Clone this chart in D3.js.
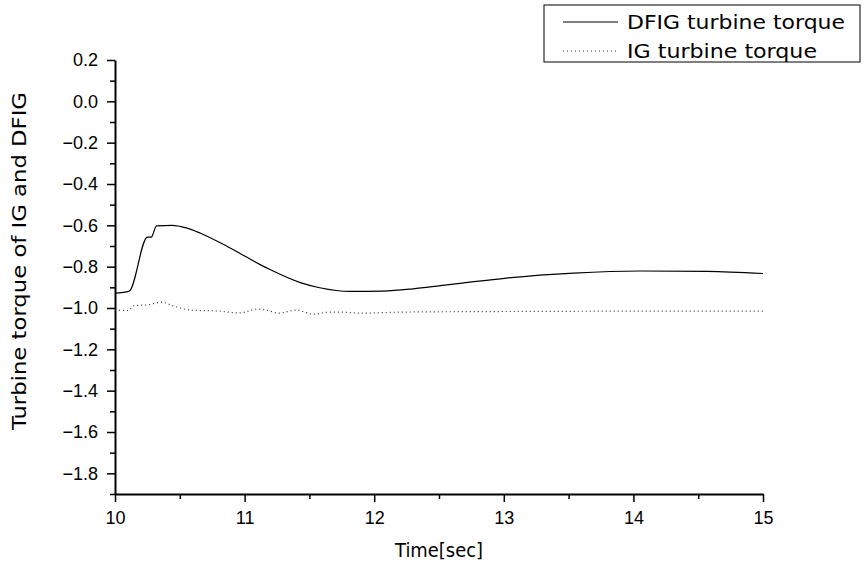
<!DOCTYPE html>
<html>
<head>
<meta charset="utf-8">
<script src="https://cdn.jsdelivr.net/npm/d3@7"></script>
<style>
  body { margin: 0; background: #fff; }
  svg { display: block; }
</style>
</head>
<body>
<svg id="chart" width="867" height="564"></svg>
<script>
// time axis (sec)
var dfigTime = [10.0, 10.11, 10.25, 10.28, 10.32, 10.44, 10.55, 10.66, 10.86, 11.0, 11.12, 11.2, 11.43, 11.58, 11.81, 12.07, 12.3, 12.51, 12.66, 13.02, 13.54, 14.05, 14.57, 15.0];
var dfigTorque = [-0.928, -0.918, -0.657, -0.657, -0.603, -0.600, -0.612, -0.638, -0.700, -0.748, -0.790, -0.815, -0.877, -0.902, -0.920, -0.918, -0.907, -0.892, -0.881, -0.855, -0.831, -0.821, -0.823, -0.833];

var igTime = [10.0, 10.1, 10.15, 10.25, 10.36, 10.45, 10.58, 10.8, 10.96, 11.1, 11.18, 11.26, 11.4, 11.53, 11.65, 11.74, 11.9, 12.2, 12.6, 13.0, 13.5, 14.0, 14.5, 15.0];
var igTorque = [-1.01, -1.012, -0.988, -0.985, -0.972, -0.99, -1.01, -1.015, -1.024, -1.005, -1.012, -1.025, -1.01, -1.03, -1.02, -1.02, -1.025, -1.02, -1.018, -1.017, -1.016, -1.015, -1.015, -1.015];

var xTicks = [10, 11, 12, 13, 14, 15];
var yTicks = [0.2, 0.0, -0.2, -0.4, -0.6, -0.8, -1.0, -1.2, -1.4, -1.6, -1.8];
var seriesNames = ["DFIG turbine torque", "IG turbine torque"];

var svg = d3.select("#chart");
var plotLeft = 115, plotRight = 763, plotTop = 60, plotBottom = 494;

var x = d3.scaleLinear().domain([10, 15]).range([plotLeft, plotRight]);
var y = d3.scaleLinear().domain([-1.9, 0.2]).range([plotBottom, plotTop]);

var fmt = d3.format(".1f");

// minor ticks first, major axis drawn on top
var xMinor = d3.range(10.5, 15, 1);
var yMinor = d3.range(0.1, -1.95, -0.2);

svg.append("g")
  .attr("transform", "translate(0," + plotBottom + ")")
  .call(d3.axisBottom(x).tickValues(xMinor).tickSize(5).tickFormat(""))
  .call(function(g) { g.select(".domain").remove(); })
  .selectAll("line").attr("stroke-width", 1.5);

svg.append("g")
  .attr("transform", "translate(" + plotLeft + ",0)")
  .call(d3.axisLeft(y).tickValues(yMinor).tickSize(5).tickFormat(""))
  .call(function(g) { g.select(".domain").remove(); })
  .selectAll("line").attr("stroke-width", 1.5);

var xAxis = svg.append("g")
  .attr("transform", "translate(0," + plotBottom + ")")
  .call(d3.axisBottom(x).tickValues(xTicks).tickSize(8).tickSizeOuter(0).tickPadding(9).tickFormat(d3.format("d")));

var yAxis = svg.append("g")
  .attr("transform", "translate(" + plotLeft + ",0)")
  .call(d3.axisLeft(y).tickValues(yTicks).tickSize(8).tickSizeOuter(0).tickPadding(9).tickFormat(fmt));

[xAxis, yAxis].forEach(function(g) {
  g.attr("font-family", "'Liberation Sans', Arial, sans-serif").attr("font-size", 18);
  g.select(".domain").attr("stroke-width", 2);
  g.selectAll(".tick line").attr("stroke-width", 1.5);
  g.selectAll("text").attr("fill", "#000");
});

// lines
var line = d3.line()
  .x(function(d) { return x(d[0]); })
  .y(function(d) { return y(d[1]); })
  .curve(d3.curveMonotoneX);

var dfigData = d3.zip(dfigTime, dfigTorque);
var igData = d3.zip(igTime, igTorque);

svg.append("path")
  .datum(dfigData)
  .attr("fill", "none")
  .attr("stroke", "#000")
  .attr("stroke-width", 1.2)
  .attr("d", line);

svg.append("path")
  .datum(igData)
  .attr("fill", "none")
  .attr("stroke", "#333")
  .attr("stroke-width", 1.2)
  .attr("stroke-dasharray", "1,3")
  .attr("d", line);

// axis titles
var titleFont = "'DejaVu Sans', sans-serif";

svg.append("text")
  .attr("x", (plotLeft + plotRight) / 2)
  .attr("y", 557)
  .attr("text-anchor", "middle")
  .attr("font-family", titleFont)
  .attr("font-size", 19)
  .attr("textLength", 88)
  .attr("lengthAdjust", "spacingAndGlyphs")
  .text("Time[sec]");

svg.append("text")
  .attr("transform", "rotate(-90)")
  .attr("x", -261)
  .attr("y", 26)
  .attr("text-anchor", "middle")
  .attr("font-family", titleFont)
  .attr("font-size", 19)
  .attr("textLength", 338)
  .attr("lengthAdjust", "spacingAndGlyphs")
  .text("Turbine torque of IG and DFIG");

// legend
var legend = svg.append("g").attr("class", "legend");

legend.append("rect")
  .attr("x", 544)
  .attr("y", 5)
  .attr("width", 316)
  .attr("height", 57)
  .attr("fill", "#fff")
  .attr("stroke", "#000")
  .attr("stroke-width", 1);

var legendRows = legend.selectAll(".row").data(seriesNames).enter().append("g")
  .attr("class", "row")
  .attr("transform", function(d, i) { return "translate(0," + (22 + i * 29) + ")"; });

legendRows.append("line")
  .attr("x1", 563)
  .attr("x2", 618)
  .attr("stroke", function(d, i) { return i == 0 ? "#000" : "#333"; })
  .attr("stroke-width", 1.2)
  .attr("stroke-dasharray", function(d, i) { return i == 0 ? null : "1,3"; });

legendRows.append("text")
  .attr("x", 627)
  .attr("y", 7)
  .attr("font-family", titleFont)
  .attr("font-size", 19)
  .attr("textLength", function(d, i) { return i == 0 ? 218 : 190; })
  .attr("lengthAdjust", "spacingAndGlyphs")
  .text(function(d) { return d; });
</script>
</body>
</html>
